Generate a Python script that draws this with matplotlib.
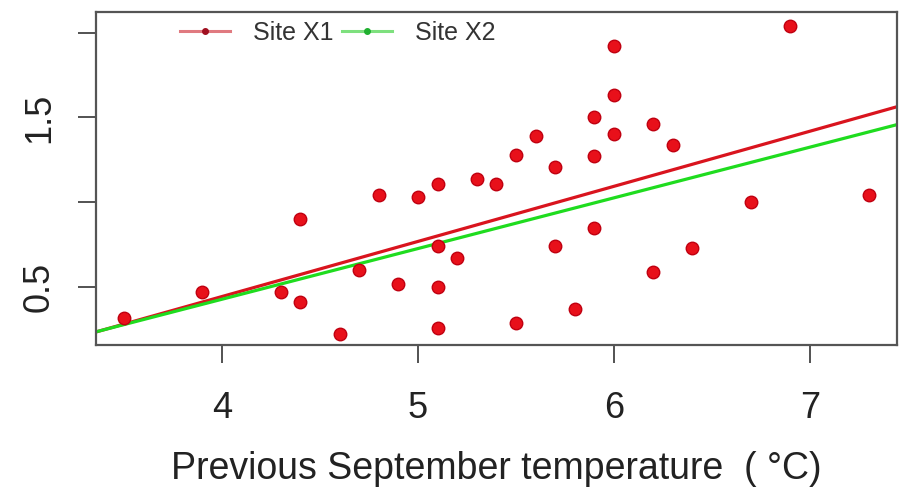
import matplotlib

matplotlib.use("Agg")
import matplotlib.pyplot as plt
import numpy as np

# ring width index vs previous September temperature
temp = [3.5, 3.9, 4.3, 4.4, 4.4, 4.6, 4.7, 4.8, 4.9, 5.0, 5.1, 5.1, 5.1, 5.1,
        5.2, 5.3, 5.4, 5.5, 5.5, 5.6, 5.7, 5.7, 5.8, 5.9, 5.9, 5.9, 6.0, 6.0,
        6.0, 6.2, 6.2, 6.3, 6.4, 6.7, 6.9, 7.3]
rwi = [0.32, 0.47, 0.47, 0.41, 0.90, 0.22, 0.60, 1.04, 0.52, 1.03, 1.11, 0.74,
       0.50, 0.26, 0.67, 1.14, 1.11, 1.28, 0.29, 1.39, 1.21, 0.74, 0.37, 1.50,
       1.27, 0.85, 1.92, 1.63, 1.40, 1.46, 0.59, 1.34, 0.73, 1.00, 2.04, 1.04]

# fitted lines (intercept, slope) per site
sites = ["Site X1", "Site X2"]
intercepts = [-0.856, -0.768]
slopes = [0.325, 0.299]
line_colors = ["#d9141e", "#1fdc1f"]
legend_colors = ["#e07a80", "#7ee07e"]
legend_dots = ["#a01020", "#20b030"]

xticks = [4, 5, 6, 7]
yticks = [0.5, 1.0, 1.5, 2.0]
ytick_labels = ["0.5", "", "1.5", ""]

plt.rcParams["font.family"] = ["Liberation Sans", "DejaVu Sans"]

fig = plt.figure(figsize=(8.99, 4.94), dpi=100)
ax = fig.add_axes([0.1068, 0.3016, 0.891, 0.6741])
xlim = (3.357, 7.444)
ax.set_xlim(*xlim)
ax.set_ylim(0.158, 2.122)

ax.plot(temp, rwi, "o", color="#e8101a", mec="#c00010", ms=9, zorder=3)

xs = np.array(xlim)
for name, a, b, c, lc, dc in zip(sites, intercepts, slopes, line_colors,
                                 legend_colors, legend_dots):
    ax.plot(xs, a + b * xs, color=c, lw=2.3, zorder=2)
    # legend proxy: pale line with a small dark dot
    ax.plot([], [], color=lc, lw=2.2, marker="o", ms=4, mfc=dc, mec=dc,
            label=name)

leg = ax.legend(loc="center left", bbox_to_anchor=(0.105, 0.937), ncol=2,
                frameon=False, fontsize=18, handlelength=2.0,
                handletextpad=0.9, columnspacing=0.36, borderpad=0,
                borderaxespad=0)
for t in leg.get_texts():
    t.set_color("#333333")

ax.set_xticks(xticks)
ax.set_xticklabels([str(v) for v in xticks])
ax.set_yticks(yticks)
ax.set_yticklabels(ytick_labels, rotation=90, va="center")
ax.tick_params(axis="both", direction="out", length=13, width=1.3,
               color="#444444", labelsize=26, labelcolor="#222222")
ax.tick_params(axis="x", pad=20)
ax.tick_params(axis="y", pad=15)
for s in ax.spines.values():
    s.set_color("#555555")
    s.set_linewidth(1.6)

ax.set_xlabel("Previous September temperature  ( °C)", fontsize=27,
              color="#222222", labelpad=18)

fig.savefig("out.png", dpi=100)
